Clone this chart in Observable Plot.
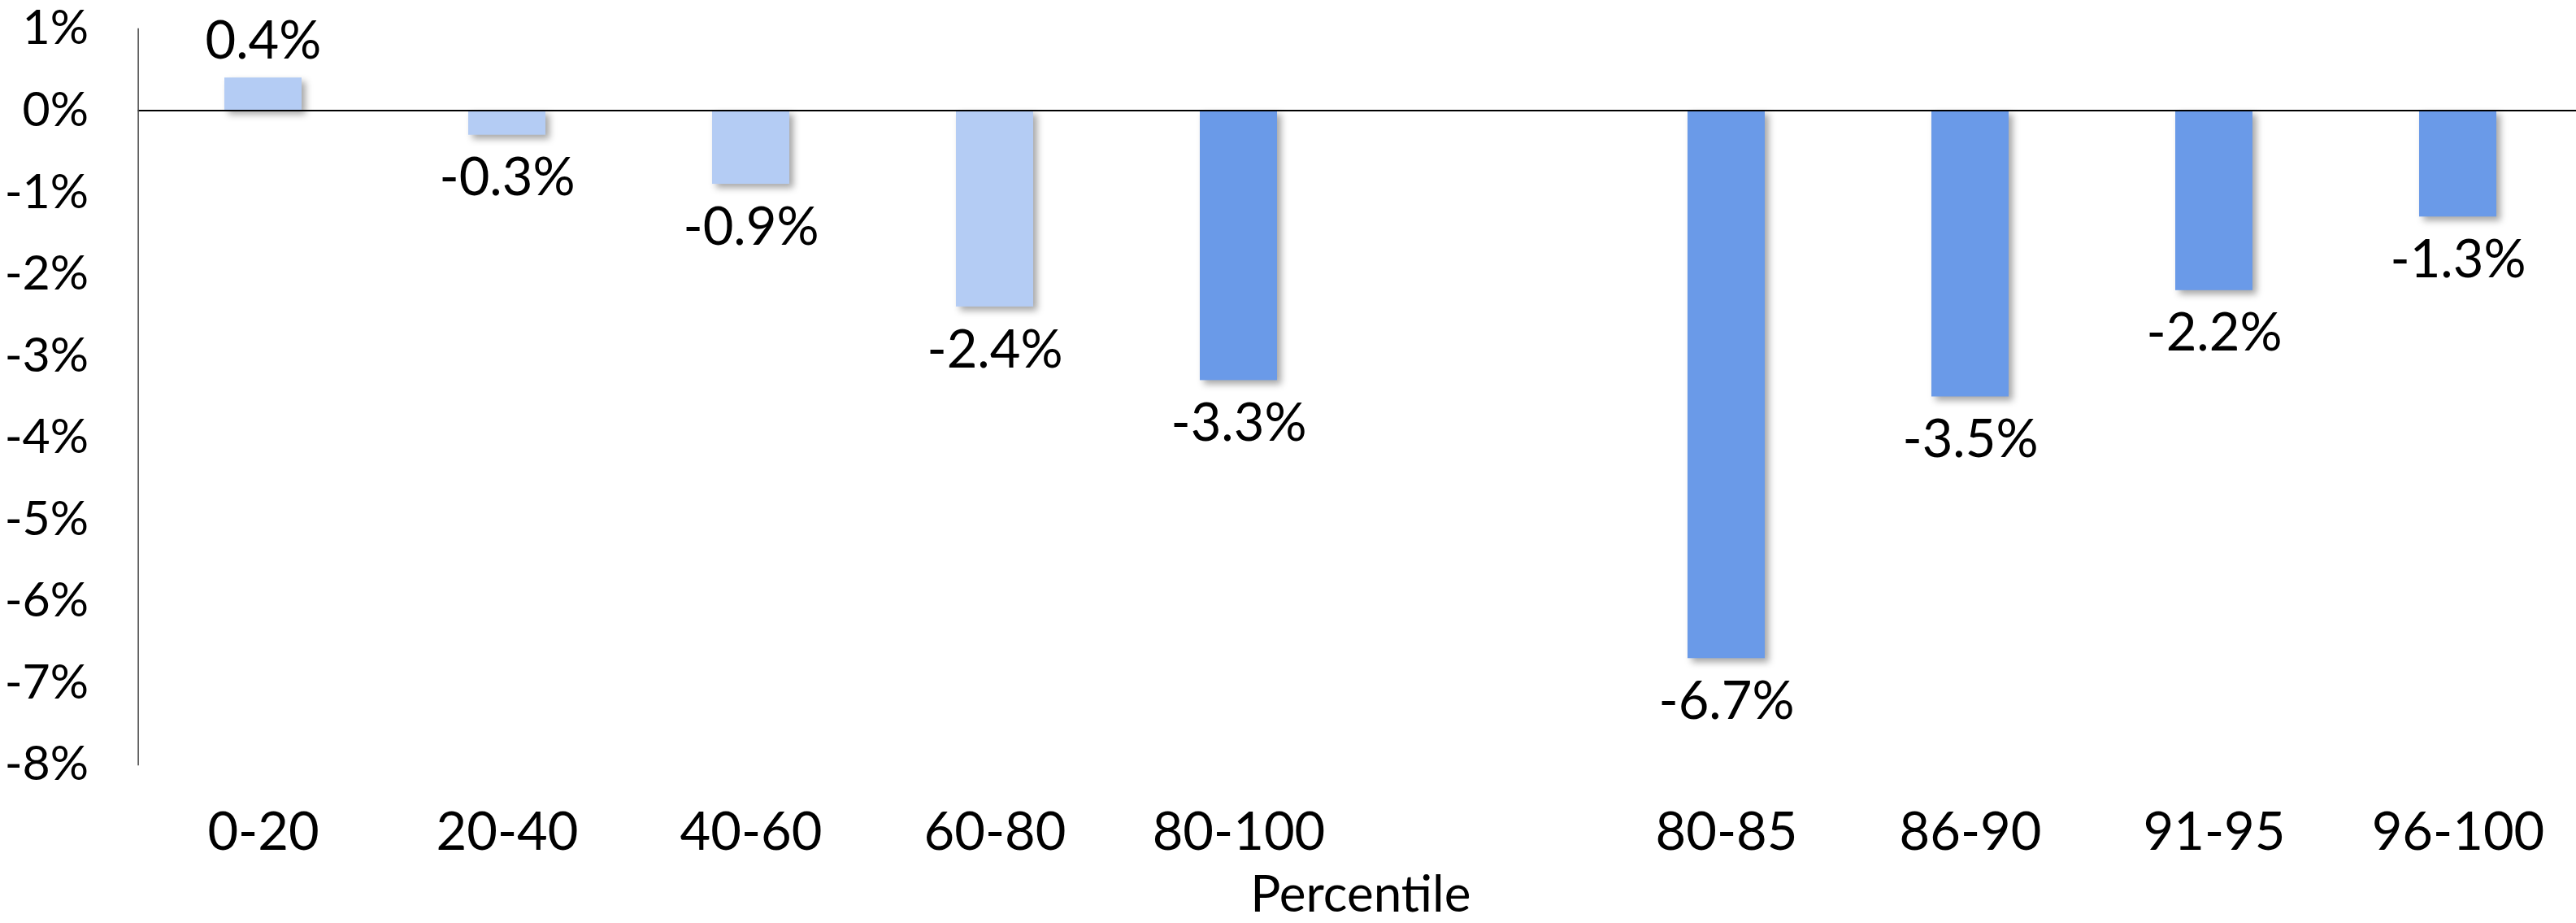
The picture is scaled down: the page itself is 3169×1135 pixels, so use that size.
<!DOCTYPE html>
<html>
<head>
<meta charset="utf-8">
<script src="https://cdn.jsdelivr.net/npm/d3@7"></script>
<script src="https://cdn.jsdelivr.net/npm/@observablehq/plot@0.6"></script>
<style>
  html, body { margin: 0; padding: 0; background: #fff; }
  #chart svg { display: block; }
  /* soft drop shadow under each bar */
  #chart g[aria-label="bar"] rect { filter: drop-shadow(5px 5px 4px rgba(0, 0, 0, 0.35)); }
</style>
</head>
<body>
<div id="chart"></div>
<script>
// Change by income percentile (%)
const percentiles = ["0-20", "20-40", "40-60", "60-80", "80-100", "80-85", "86-90", "91-95", "96-100"];
const changes     = [0.4, -0.3, -0.9, -2.4, -3.3, -6.7, -3.5, -2.2, -1.3];
const groups      = ["Bottom 80%", "Bottom 80%", "Bottom 80%", "Bottom 80%",
                     "Top 20%", "Top 20%", "Top 20%", "Top 20%", "Top 20%"];

// an empty slot separates the quintiles from the top-quintile breakdown
const spacer = " ";
const xOrder = [...percentiles.slice(0, 5), spacer, ...percentiles.slice(5)];

const yTicks = [1, 0, -1, -2, -3, -4, -5, -6, -7, -8];

const data = percentiles.map((p, i) => ({percentile: p, change: changes[i], group: groups[i]}));
const fmt = d => d.toFixed(1) + "%";

const chart = Plot.plot({
  width: 3169,
  height: 1135,
  marginTop: 35,
  marginBottom: 195,
  marginLeft: 169.6,
  marginRight: -8,
  style: {fontFamily: "Lato, 'Noto Sans', sans-serif", fontSize: "65px", color: "#000", background: "#fff"},
  x: {domain: xOrder, paddingInner: 0.684, paddingOuter: 0.342, axis: null},
  y: {domain: [-8, 1], axis: null},
  color: {domain: ["Bottom 80%", "Top 20%"], range: ["#b4ccf4", "#6a9ae8"]},
  marks: [
    Plot.barY(data, {x: "percentile", y: "change", fill: "group"}),
    Plot.ruleY([0], {stroke: "#000", strokeWidth: 2}),
    Plot.frame({anchor: "left", stroke: "#444", strokeWidth: 1.5}),
    Plot.axisY({ticks: yTicks, tickSize: 0, tickPadding: 61, tickFormat: d => d + "%", fontSize: 59, label: null}),
    Plot.axisX({ticks: percentiles, tickSize: 0, tickPadding: 58, fontSize: 65, label: null}),
    Plot.text(data.filter(d => d.change >= 0), {
      x: "percentile", y: "change", text: d => fmt(d.change),
      lineAnchor: "bottom", dy: -24, fontSize: 65, fill: "#000"
    }),
    Plot.text(data.filter(d => d.change < 0), {
      x: "percentile", y: "change", text: d => fmt(d.change),
      lineAnchor: "top", dy: 28, fontSize: 65, fill: "#000"
    }),
    Plot.text(["Percentile"], {frameAnchor: "bottom", lineAnchor: "middle", dy: 161, fontSize: 62, fill: "#000"})
  ]
});

document.getElementById("chart").append(chart);
</script>
</body>
</html>
